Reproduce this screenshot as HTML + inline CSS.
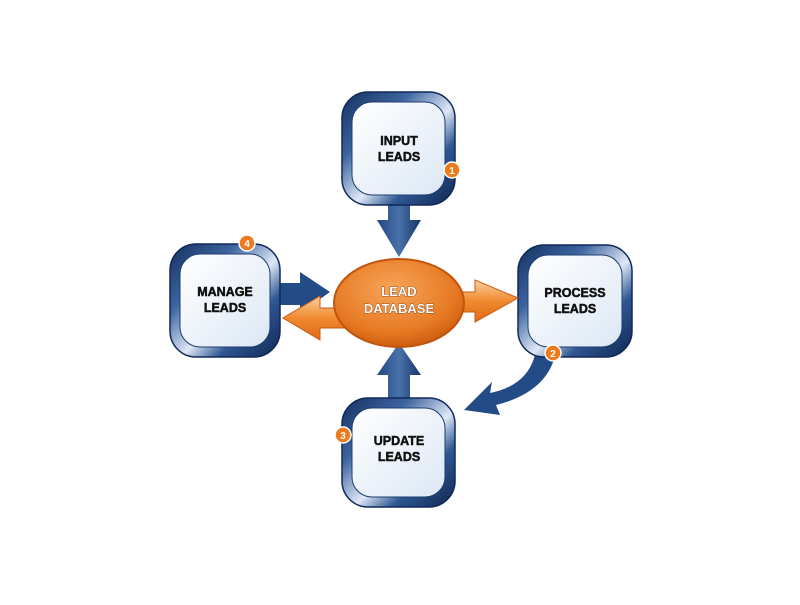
<!DOCTYPE html>
<html><head><style>
body{margin:0;background:#fff;width:800px;height:600px;overflow:hidden}
text{font-family:"Liberation Sans",sans-serif;font-weight:700}
</style></head><body>
<svg width="800" height="600" viewBox="0 0 800 600">
<defs>
<linearGradient id="frame" x1="0" y1="0" x2="1" y2="1">
<stop offset="0" stop-color="#14305f"/><stop offset="0.3" stop-color="#3d64a0"/><stop offset="0.55" stop-color="#dfe8f6"/><stop offset="0.72" stop-color="#2f5792"/><stop offset="1" stop-color="#0f2650"/></linearGradient>
<linearGradient id="inner" x1="0" y1="0" x2="1" y2="1"><stop offset="0" stop-color="#ffffff"/><stop offset="1" stop-color="#dce7f4"/></linearGradient>
<linearGradient id="blue" x1="0" y1="0" x2="1" y2="0"><stop offset="0" stop-color="#1f4680"/><stop offset="0.5" stop-color="#4a72aa"/><stop offset="1" stop-color="#163566"/></linearGradient>
<radialGradient id="org" cx="0.45" cy="0.35" r="0.7"><stop offset="0" stop-color="#f7a65a"/><stop offset="0.7" stop-color="#e67822"/><stop offset="1" stop-color="#c4560d"/></radialGradient>
<linearGradient id="oarr" x1="0" y1="0" x2="0" y2="1"><stop offset="0" stop-color="#fbd0a0"/><stop offset="0.5" stop-color="#f08a30"/><stop offset="1" stop-color="#e06a15"/></linearGradient>
</defs>
<path d="M388 203 H410 V220 H421 L399 257 L377 220 H388 Z" fill="url(#blue)"/>
<path d="M388 400 H410 V375 H421 L399 343 L377 375 H388 Z" fill="url(#blue)"/>
<path d="M278 283 H300 V272 L330 292 L300 313 V305 H278 Z" fill="#234b85"/>
<path d="M536 350 Q530 385 490 393 L492 382 L464 410 L500 415 L496 405 Q548 392 556 352 Z" fill="#234b85"/>
<g stroke="#10285a" stroke-width="1.5">
<rect x="342" y="92" width="113" height="113" rx="26" fill="url(#frame)"/>
<rect x="170" y="244" width="110" height="113" rx="26" fill="url(#frame)"/>
<rect x="518" y="245" width="114" height="112" rx="26" fill="url(#frame)"/>
<rect x="342" y="398" width="113" height="109" rx="26" fill="url(#frame)"/>
</g>
<g stroke="#1c3c70" stroke-width="1">
<rect x="352" y="102" width="93" height="93" rx="20" fill="url(#inner)"/>
<rect x="180" y="254" width="90" height="93" rx="20" fill="url(#inner)"/>
<rect x="528" y="255" width="94" height="92" rx="20" fill="url(#inner)"/>
<rect x="352" y="408" width="93" height="89" rx="20" fill="url(#inner)"/>
</g>
<path d="M400 292 H475 V280 L518 298 L475 322 V312 H400 Z" fill="url(#oarr)" stroke="#c85a10" stroke-width="1"/>
<path d="M400 308 H320 V296 L283 318 L320 340 V328 H400 Z" fill="url(#oarr)" stroke="#c85a10" stroke-width="1"/>
<ellipse cx="399" cy="303" rx="65" ry="44" fill="url(#org)" stroke="#c2540c" stroke-width="2"/>
<text x="399" y="296" font-size="13" fill="#fff" text-anchor="middle" stroke="#7a3a08" stroke-width="0.8" paint-order="stroke">LEAD</text>
<text x="399" y="313" font-size="13" fill="#fff" text-anchor="middle" stroke="#7a3a08" stroke-width="0.8" paint-order="stroke">DATABASE</text>
<g font-size="12.5" fill="#111" text-anchor="middle" stroke="#111" stroke-width="0.5">
<text x="399" y="145">INPUT</text><text x="399" y="161">LEADS</text>
<text x="225" y="296">MANAGE</text><text x="225" y="312">LEADS</text>
<text x="575" y="297">PROCESS</text><text x="575" y="313">LEADS</text>
<text x="399" y="445">UPDATE</text><text x="399" y="461">LEADS</text>
</g>
<g fill="#ee7a1e" stroke="#fff" stroke-width="1.5">
<circle cx="452" cy="170" r="8"/><circle cx="553" cy="353" r="8"/><circle cx="343" cy="435" r="8"/><circle cx="247" cy="243" r="8"/>
</g>
<g font-size="10" fill="#fff" text-anchor="middle">
<text x="452" y="174">1</text><text x="553" y="357">2</text><text x="343" y="439">3</text><text x="247" y="247">4</text>
</g>
</svg>
</body></html>
